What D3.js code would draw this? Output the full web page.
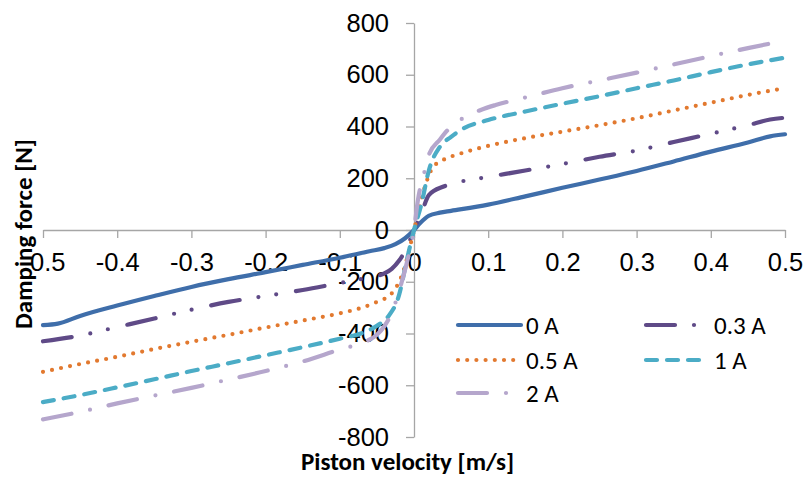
<!DOCTYPE html>
<head>
  <meta charset="utf-8">
  <style>
    body { margin: 0; background: #fff; }
    svg { display: block; font-family: Carlito, Calibri, Lato, sans-serif; }
  </style>
  <script src="https://cdn.jsdelivr.net/npm/d3@7"></script>
</head>
<body>
<div id=chart></div>
<script>
// values: velocity [m/s] / damping force [N]
const v_0A = [-0.5, -0.48, -0.45, -0.4, -0.35, -0.3, -0.25, -0.2, -0.15, -0.1, -0.06, -0.04, -0.025, -0.012, 0, 0.008, 0.02, 0.035, 0.05, 0.1, 0.15, 0.2, 0.25, 0.3, 0.35, 0.4, 0.45, 0.48, 0.5]
const f_0A = [-368, -362, -332, -292, -255, -220, -190, -163, -135, -107, -82, -70, -55, -32, 0, 26, 55, 67, 74, 98, 130, 163, 195, 228, 265, 303, 338, 362, 370]

const v_03A = [-0.5, -0.45, -0.4, -0.35, -0.3, -0.25, -0.2, -0.15, -0.1, -0.06, -0.04, -0.03, -0.02, -0.01, 0, 0.01, 0.02, 0.04, 0.06, 0.1, 0.15, 0.2, 0.25, 0.3, 0.35, 0.4, 0.45, 0.48, 0.5]
const f_03A = [-430, -408, -375, -342, -308, -278, -255, -232, -205, -183, -168, -150, -118, -70, 0, 65, 135, 168, 185, 205, 230, 255, 283, 307, 340, 372, 405, 427, 434]

const v_05A = [-0.5, -0.45, -0.4, -0.35, -0.3, -0.25, -0.2, -0.15, -0.1, -0.07, -0.05, -0.03, -0.015, 0, 0.005, 0.015, 0.025, 0.04, 0.06, 0.1, 0.15, 0.2, 0.25, 0.3, 0.35, 0.4, 0.45, 0.5]
const f_05A = [-548, -518, -490, -460, -432, -405, -377, -350, -322, -300, -278, -245, -165, 0, 60, 170, 240, 272, 293, 325, 355, 380, 405, 432, 462, 492, 522, 548]

const v_1A = [-0.5, -0.45, -0.4, -0.35, -0.3, -0.25, -0.2, -0.15, -0.1, -0.07, -0.05, -0.035, -0.02, -0.01, 0, 0.01, 0.02, 0.035, 0.05, 0.065, 0.1, 0.15, 0.2, 0.25, 0.3, 0.35, 0.4, 0.45, 0.5]
const f_1A = [-665, -638, -608, -577, -545, -515, -484, -453, -420, -398, -370, -335, -250, -120, 0, 100, 230, 322, 360, 390, 425, 458, 488, 517, 548, 578, 610, 640, 666]

const v_2A = [-0.5, -0.45, -0.4, -0.35, -0.3, -0.25, -0.2, -0.15, -0.1, -0.07, -0.05, -0.04, -0.03, -0.02, -0.01, 0, 0.005, 0.015, 0.02, 0.035, 0.05, 0.066, 0.09, 0.11, 0.15, 0.2, 0.25, 0.3, 0.35, 0.4, 0.45, 0.5]
const f_2A = [-732, -703, -670, -640, -610, -578, -545, -508, -462, -436, -405, -372, -320, -235, -130, 0, 110, 235, 290, 350, 400, 432, 464, 483, 512, 548, 578, 608, 640, 672, 703, 732]

const series_names = ['0 A', '0.3 A', '0.5 A', '1 A', '2 A']
const x_ticks = [-0.5, -0.4, -0.3, -0.2, -0.1, 0, 0.1, 0.2, 0.3, 0.4, 0.5]
const y_ticks = [-800, -600, -400, -200, 0, 200, 400, 600, 800]

const series = [
  { name: series_names[0], v: v_0A, f: f_0A, color: '#3f6eaa', dash: null },
  { name: series_names[1], v: v_03A, f: f_03A, color: '#5f4a87', dash: '29,19,0,18,0,20' },
  { name: series_names[2], v: v_05A, f: f_05A, color: '#e2792f', dash: '0,9.2' },
  { name: series_names[3], v: v_1A, f: f_1A, color: '#4bacc6', dash: '11,10' },
  { name: series_names[4], v: v_2A, f: f_2A, color: '#b5a6cc', dash: '29,19,0,19' },
]

const width = 804, height = 477
const x = d3.scaleLinear().domain([-0.5, 0.5]).range([43, 785])
const y = d3.scaleLinear().domain([-800, 800]).range([437, 23])
const axis_color = '#a6a6a6'
const font_size = 25.5

const svg = d3.select('#chart').append('svg')
  .attr('width', width)
  .attr('height', height)
  .attr('viewBox', [0, 0, width, height])
svg.append('rect').attr('width', width).attr('height', height).attr('fill', '#fff')

// x axis crosses at 0
svg.append('g')
  .attr('transform', `translate(0,${y(0)})`)
  .call(d3.axisBottom(x).tickValues(x_ticks).tickFormat(d => String(d)).tickSize(8).tickSizeOuter(0))
  .call(g => g.select('.domain').attr('stroke', axis_color).attr('stroke-width', 1.3))
  .call(g => g.selectAll('.tick line').attr('stroke', axis_color).attr('stroke-width', 1.3))
  .call(g => g.selectAll('.tick text')
    .attr('y', 41).attr('dy', 0)
    .attr('fill', '#000').style('font-size', `${font_size}px`).style('font-family', null))

// y axis crosses at 0
svg.append('g')
  .attr('transform', `translate(${x(0)},0)`)
  .call(d3.axisLeft(y).tickValues(y_ticks).tickFormat(d => String(d)).tickSize(8).tickPadding(17).tickSizeOuter(0))
  .call(g => g.select('.domain').attr('stroke', axis_color).attr('stroke-width', 1.3))
  .call(g => g.selectAll('.tick text')
    .attr('fill', '#000').style('font-size', `${font_size}px`).style('font-family', null))
  .call(g => g.selectAll('.tick line').attr('stroke', axis_color).attr('stroke-width', 1.3))

// titles
svg.append('text')
  .attr('transform', `translate(32,234) rotate(-90)`)
  .attr('text-anchor', 'middle')
  .attr('font-weight', 'bold')
  .attr('font-size', 25)
  .text('Damping force [N]')
svg.append('text')
  .attr('x', 301).attr('y', 470)
  .attr('font-weight', 'bold')
  .attr('font-size', 25)
  .text('Piston velocity [m/s]')

// curves
const line = d3.line()
  .x(d => x(d[0]))
  .y(d => y(d[1]))
  .curve(d3.curveMonotoneX)

svg.append('g')
  .selectAll('path')
  .data(series)
  .join('path')
    .attr('d', s => line(d3.zip(s.v, s.f)))
    .attr('fill', 'none')
    .attr('stroke', s => s.color)
    .attr('stroke-width', 4.2)
    .attr('stroke-linecap', 'round')
    .attr('stroke-linejoin', 'round')
    .attr('stroke-dasharray', s => s.dash)

// legend
const legend_pos = [[458, 325], [646, 325], [458, 360], [646, 360], [458, 393]]
const legend = svg.append('g')
  .selectAll('g')
  .data(series)
  .join('g')
    .attr('transform', (s, i) => `translate(${legend_pos[i][0]},${legend_pos[i][1]})`)
legend.append('line')
  .attr('x1', 0).attr('x2', 63)
  .attr('stroke', s => s.color)
  .attr('stroke-width', 4.2)
  .attr('stroke-linecap', 'round')
  .attr('stroke-dasharray', s => s.dash)
legend.append('text')
  .attr('x', 68).attr('y', 9)
  .attr('font-size', 25)
  .text(s => s.name)
</script>
</body>
